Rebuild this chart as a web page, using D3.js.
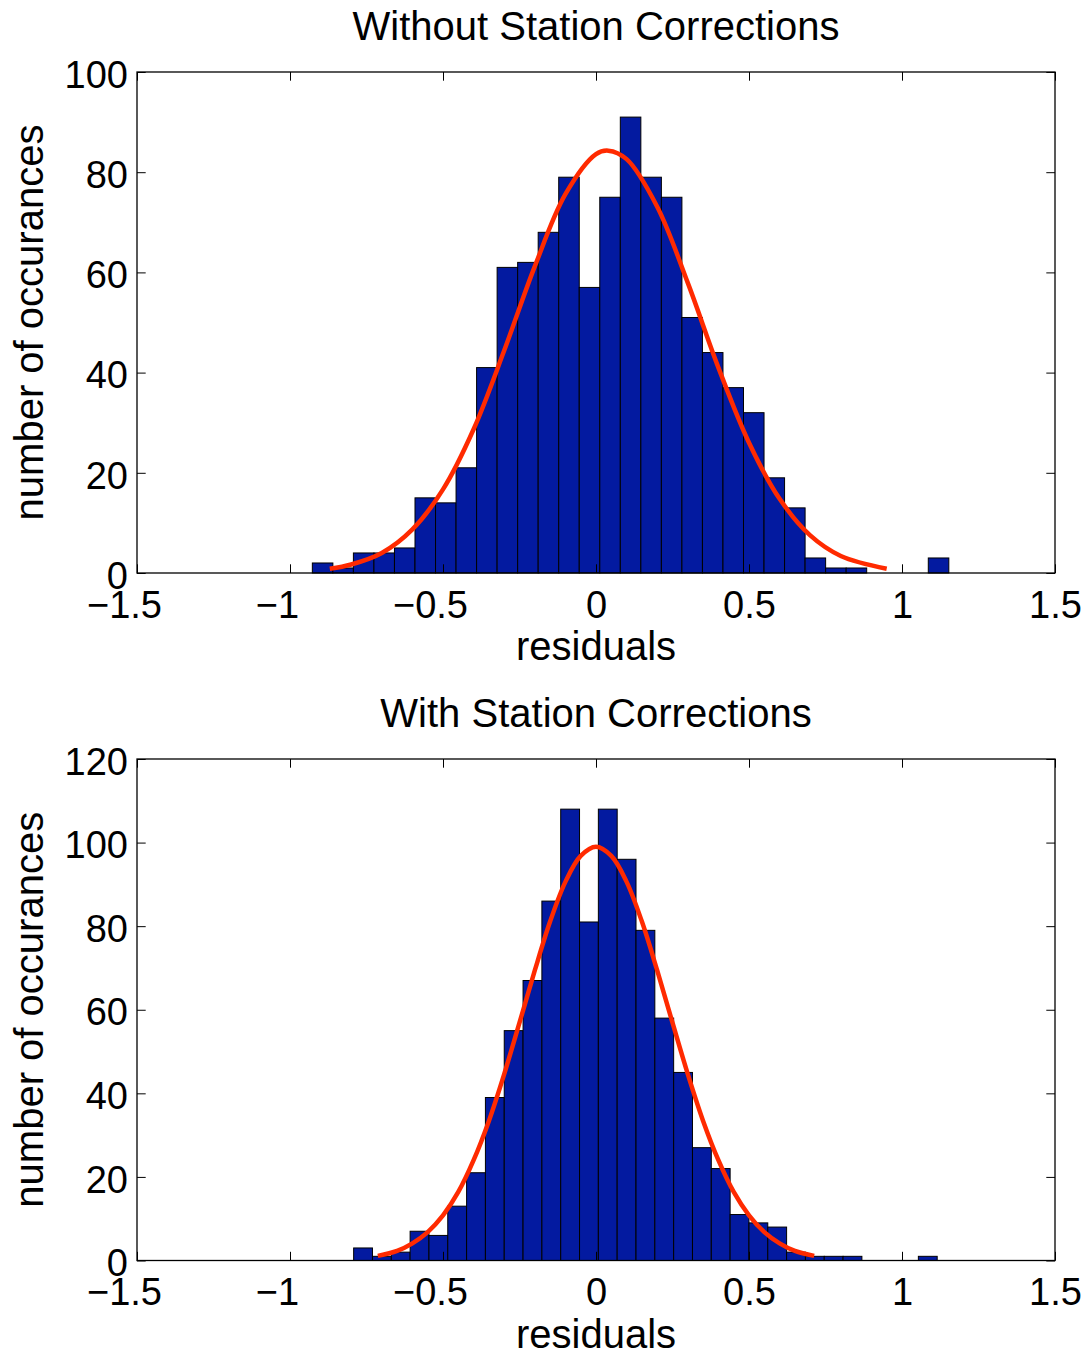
<!DOCTYPE html>
<html>
<head>
<meta charset="utf-8">
<script src="https://cdn.jsdelivr.net/npm/d3@7"></script>
<style>
body { margin: 0; background: #fff; }
text { font-family: Helvetica, "Liberation Sans", Arial, sans-serif; fill: #000; }
</style>
</head>
<body>
<svg id="chart" width="1091" height="1351"></svg>
<script>
// histogram counts (31 bins per panel) and the span the bins cover
var topCounts = [2, 1, 4, 4, 5, 15, 14, 21, 41, 61, 62, 68, 79, 57, 75, 91, 79, 75, 51, 44, 37, 32, 19, 13, 3, 1, 1, 0, 0, 0, 3];
var topRange = [-0.927, 1.153];
var bottomCounts = [3, 1, 2, 7, 6, 13, 21, 39, 55, 67, 86, 108, 81, 108, 96, 79, 58, 45, 27, 22, 11, 9, 8, 2, 1, 1, 1, 0, 0, 0, 1];
var bottomRange = [-0.792, 1.115];

// fitted curves
var topFitX = [-0.87, -0.8, -0.7, -0.6, -0.5, -0.4, -0.3, -0.2, -0.1, 0, 0.04, 0.1, 0.2, 0.3, 0.4, 0.5, 0.6, 0.7, 0.8, 0.95];
var topFitY = [0.85, 1.7, 4.0, 8.7, 16.7, 28.7, 44.4, 61.2, 75.6, 83.6, 84.3, 82.6, 73.1, 57.9, 41.0, 26.0, 14.8, 7.5, 3.4, 0.85];
var bottomFitX = [-0.713, -0.65, -0.6, -0.55, -0.5, -0.45, -0.4, -0.35, -0.3, -0.25, -0.2, -0.15, -0.1, -0.05, 0,
  0.05, 0.1, 0.15, 0.2, 0.25, 0.3, 0.35, 0.4, 0.45, 0.5, 0.55, 0.6, 0.65, 0.713];
var bottomFitY = [1.1, 2.3, 4.1, 6.8, 10.8, 16.4, 24.0, 33.4, 44.6, 56.9, 69.4, 81.1, 90.6, 96.8, 99.0,
  96.8, 90.6, 81.1, 69.4, 56.9, 44.6, 33.4, 24.0, 16.4, 10.8, 6.8, 4.1, 2.3, 1.1];

var xTicks = [-1.5, -1, -0.5, 0, 0.5, 1, 1.5];
var topYTicks = [0, 20, 40, 60, 80, 100];
var bottomYTicks = [0, 20, 40, 60, 80, 100, 120];

var titles = ['Without Station Corrections', 'With Station Corrections'];
var xLabel = 'residuals';
var yLabel = 'number of occurances';

var svg = d3.select('#chart');
var left = 137, right = 1055;
var tickLen = 8.7;

var panels = [
	{ title: titles[0], counts: topCounts, range: topRange, fitX: topFitX, fitY: topFitY, yTicks: topYTicks, top: 72, bottom: 573 },
	{ title: titles[1], counts: bottomCounts, range: bottomRange, fitX: bottomFitX, fitY: bottomFitY, yTicks: bottomYTicks, top: 759, bottom: 1260.5 }
];

panels.forEach(function(p) {
	var g = svg.append('g');
	var x = d3.scaleLinear().domain([-1.5, 1.5]).range([left, right]);
	var y = d3.scaleLinear().domain([0, d3.max(p.yTicks)]).range([p.bottom, p.top]);
	var binW = (p.range[1] - p.range[0]) / p.counts.length;

	g.selectAll('rect.bar')
	.data(p.counts)
	.enter()
	.append('rect')
	.attr('class', 'bar')
	.attr('x', function(d, i) { return x(p.range[0] + i * binW); })
	.attr('width', x(binW) - x(0))
	.attr('y', function(d) { return y(d); })
	.attr('height', function(d) { return y(0) - y(d); })
	.style('fill', '#031aa0')
	.style('stroke', '#000')
	.style('stroke-width', 1);

	var line = d3.line()
	.x(function(d) { return x(d[0]); })
	.y(function(d) { return y(d[1]); })
	.curve(d3.curveCatmullRom.alpha(0.5));

	g.append('path')
	.datum(d3.zip(p.fitX, p.fitY))
	.attr('d', line)
	.style('fill', 'none')
	.style('stroke', '#ff2a00')
	.style('stroke-width', 4.5);

	// axes, ticks pointing inward on all four sides
	var xb = g.append('g')
	.attr('transform', 'translate(0,' + p.bottom + ')')
	.call(d3.axisBottom(x).tickValues(xTicks).tickFormat(d3.format('~g'))
		.tickSizeInner(-tickLen).tickSizeOuter(0).tickPadding(18));
	xb.selectAll('text')
	.style('font-size', '38px')
	.attr('dx', function(d) { return d < 0 ? -13 : 0; });

	g.append('g')
	.attr('transform', 'translate(0,' + p.top + ')')
	.call(d3.axisTop(x).tickValues(xTicks).tickFormat('').tickSizeInner(-tickLen).tickSizeOuter(0));

	var yl = g.append('g')
	.attr('transform', 'translate(' + left + ',0)')
	.call(d3.axisLeft(y).tickValues(p.yTicks).tickFormat(d3.format('d'))
		.tickSizeInner(-tickLen).tickSizeOuter(0).tickPadding(9));
	yl.selectAll('text')
	.style('font-size', '38px')
	.attr('dy', '0.4em');

	g.append('g')
	.attr('transform', 'translate(' + right + ',0)')
	.call(d3.axisRight(y).tickValues(p.yTicks).tickFormat('').tickSizeInner(-tickLen).tickSizeOuter(0));

	g.selectAll('.domain').remove();
	g.selectAll('.tick line').style('stroke', '#000').style('stroke-width', 1);

	g.append('rect')
	.attr('x', left)
	.attr('y', p.top)
	.attr('width', right - left)
	.attr('height', p.bottom - p.top)
	.style('fill', 'none')
	.style('stroke', '#000')
	.style('stroke-width', 1.3);

	g.append('text')
	.attr('x', (left + right) / 2)
	.attr('y', p.top - 32)
	.attr('text-anchor', 'middle')
	.style('font-size', '40px')
	.text(p.title);

	g.append('text')
	.attr('x', (left + right) / 2)
	.attr('y', p.bottom + 87)
	.attr('text-anchor', 'middle')
	.style('font-size', '40px')
	.text(xLabel);

	g.append('text')
	.attr('transform', 'translate(43,' + (p.top + p.bottom) / 2 + ') rotate(-90)')
	.attr('text-anchor', 'middle')
	.style('font-size', '40px')
	.text(yLabel);
});
</script>
</body>
</html>
